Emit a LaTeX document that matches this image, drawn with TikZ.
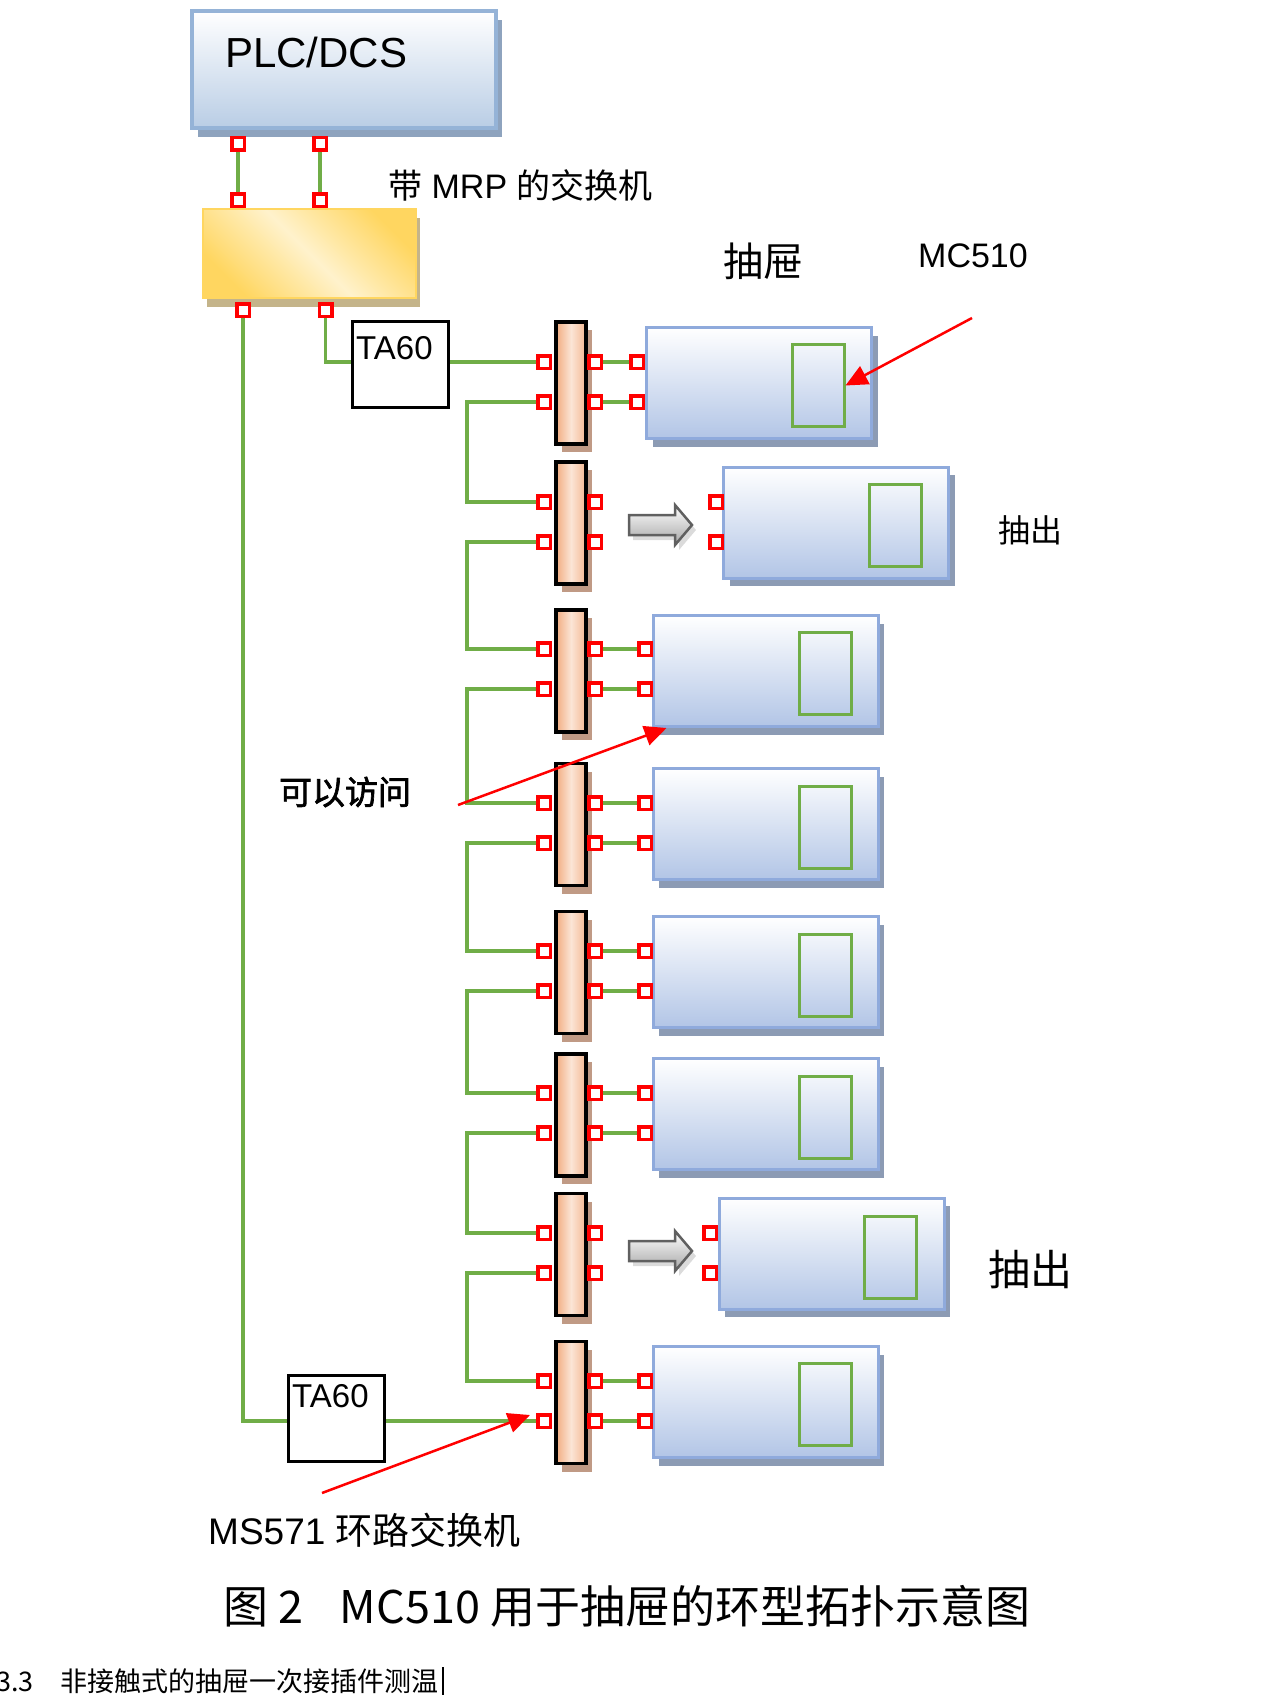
\documentclass[tikz,border=0pt]{standalone}
\usepackage{fontspec}
\setmainfont{Liberation Sans}
\newfontfamily\cjk{Noto Sans CJK SC}
\newfontfamily\cjkbf[FakeBold=2]{Noto Sans CJK SC}
\usetikzlibrary{shadows,backgrounds,arrows.meta}

\definecolor{plcblue}{RGB}{185,205,229}
\definecolor{plcline}{RGB}{149,179,215}
\definecolor{plcshade}{RGB}{142,163,190}
\definecolor{drawerblue}{RGB}{178,197,230}
\definecolor{drawerline}{RGB}{143,170,220}
\definecolor{drawershade}{RGB}{140,155,180}
\definecolor{gold}{RGB}{255,214,96}
\definecolor{lightgold}{RGB}{255,242,204}
\definecolor{goldshade}{RGB}{196,180,138}
\definecolor{barorange}{RGB}{242,172,128}
\definecolor{barlight}{RGB}{251,229,214}
\definecolor{barshade}{RGB}{192,154,133}
\definecolor{wiregreen}{RGB}{112,173,71}
\definecolor{arrowgray}{RGB}{96,96,96}

\begin{document}
\begin{tikzpicture}[x=1pt, y=-1pt,
    plcbox/.style={rectangle, draw=plcline, line width=3.5pt, top color=white, bottom color=plcblue,
      minimum width=304pt, minimum height=117pt,
      drop shadow={shadow xshift=6pt, shadow yshift=-9pt, fill=plcshade, opacity=1}},
    mrpswitch/.style={rectangle, draw=gold, line width=2pt, left color=gold, right color=gold, middle color=lightgold,
      shading angle=135, minimum width=213pt, minimum height=89pt,
      drop shadow={shadow xshift=4pt, shadow yshift=-9pt, fill=goldshade, opacity=1}},
    tabox/.style={rectangle, draw=black, line width=3pt, fill=white, minimum width=96pt, minimum height=86pt},
    railbar/.style={rectangle, draw=black, line width=3.5pt, left color=barorange, right color=barorange!85,
      middle color=barlight, minimum width=30pt, minimum height=122pt,
      drop shadow={shadow xshift=6pt, shadow yshift=-8pt, fill=barshade, opacity=1}},
    drawer/.style={rectangle, draw=drawerline, line width=3pt, top color=white, bottom color=drawerblue,
      minimum width=225pt, minimum height=111pt,
      drop shadow={shadow xshift=6pt, shadow yshift=-8pt, fill=drawershade, opacity=1}},
    window/.style={rectangle, draw=wiregreen, line width=3pt, minimum width=52pt, minimum height=82pt},
    port/.style={rectangle, draw=red, line width=3.5pt, fill=white, minimum size=12.5pt, inner sep=0pt},
    wire/.style={draw=wiregreen, line width=3.2pt},
    callout/.style={draw=red, line width=2.5pt, -{Triangle[length=22pt, width=20pt]}},
    pullarrow/.style={draw=arrowgray, line width=2.5pt, top color=white, bottom color=black!35,
      drop shadow={shadow xshift=4pt, shadow yshift=-5pt, fill=black!40, opacity=0.35}},
    every node/.style={font=\fontsize{33}{36}\selectfont, inner sep=0pt}]
      \useasboundingbox (0,0) rectangle (1260,1696);

      % controller and MRP switch
      \node[plcbox] (plc) at (344,69.5) {};
      \node[anchor=base west, font=\fontsize{42}{46}\selectfont] (plctext) at (225,68) {PLC/DCS};
      \node[mrpswitch] (sw) at (309.5,253.5) {};
      \node[anchor=west, font=\fontsize{34}{38}\selectfont] (mrplabel) at (388,185) {{\cjk 带} MRP {\cjk 的交换机}};

      \node[port] (plcA) at (238,144) {};
      \node[port] (plcB) at (320,144) {};
      \node[port] (swA) at (238,200.5) {};
      \node[port] (swB) at (320,200.5) {};
      \node[port] (swC) at (243,310) {};
      \node[port] (swD) at (325.5,310) {};

      % drawers
      \node[drawer] (d1) at (759,383) {};
      \node[drawer] (d2) at (836,522.5) {};
      \node[drawer] (d3) at (765.5,671) {};
      \node[drawer] (d4) at (765.5,824) {};
      \node[drawer] (d5) at (765.5,972) {};
      \node[drawer] (d6) at (765.5,1114) {};
      \node[drawer] (d7) at (831.5,1253.5) {};
      \node[drawer] (d8) at (765.5,1402) {};

      \node[window] (w1) at (818,385.5) {};
      \node[window] (w2) at (895.5,525.5) {};
      \node[window] (w3) at (825.5,673.5) {};
      \node[window] (w4) at (825.5,827) {};
      \node[window] (w5) at (825.5,975) {};
      \node[window] (w6) at (825.5,1117) {};
      \node[window] (w7) at (890.5,1257.5) {};
      \node[window] (w8) at (825.5,1404.5) {};

      % plug-in connector bars
      \node[railbar] (bar1) at (571,383) {};
      \node[railbar] (bar2) at (571,523) {};
      \node[railbar] (bar3) at (571,671) {};
      \node[railbar] (bar4) at (571,824.5) {};
      \node[railbar] (bar5) at (571,972.5) {};
      \node[railbar] (bar6) at (571,1115) {};
      \node[railbar] (bar7) at (571,1254.5) {};
      \node[railbar] (bar8) at (571,1402.5) {};

      % ring switches
      \node[tabox] (ta1) at (400.5,364) {};
      \node[anchor=base west] (ta1text) at (356,359) {TA60};
      \node[tabox] (ta2) at (336,1418) {};
      \node[anchor=base west] (ta2text) at (292,1407) {TA60};

      % ports, row by row
      \node[port] (l1a) at (544,362) {};
      \node[port] (l1b) at (544,402) {};
      \node[port] (r1a) at (595,362) {};
      \node[port] (r1b) at (595,402) {};
      \node[port] (p1a) at (637,362) {};
      \node[port] (p1b) at (637,402) {};

      \node[port] (l2a) at (544,502) {};
      \node[port] (l2b) at (544,542) {};
      \node[port] (r2a) at (595,502) {};
      \node[port] (r2b) at (595,542) {};
      \node[port] (p2a) at (716,502) {};
      \node[port] (p2b) at (716,542) {};

      \node[port] (l3a) at (544,649) {};
      \node[port] (l3b) at (544,689) {};
      \node[port] (r3a) at (595,649) {};
      \node[port] (r3b) at (595,689) {};
      \node[port] (p3a) at (645,649) {};
      \node[port] (p3b) at (645,689) {};

      \node[port] (l4a) at (544,803) {};
      \node[port] (l4b) at (544,843) {};
      \node[port] (r4a) at (595,803) {};
      \node[port] (r4b) at (595,843) {};
      \node[port] (p4a) at (645,803) {};
      \node[port] (p4b) at (645,843) {};

      \node[port] (l5a) at (544,951) {};
      \node[port] (l5b) at (544,991) {};
      \node[port] (r5a) at (595,951) {};
      \node[port] (r5b) at (595,991) {};
      \node[port] (p5a) at (645,951) {};
      \node[port] (p5b) at (645,991) {};

      \node[port] (l6a) at (544,1093) {};
      \node[port] (l6b) at (544,1133) {};
      \node[port] (r6a) at (595,1093) {};
      \node[port] (r6b) at (595,1133) {};
      \node[port] (p6a) at (645,1093) {};
      \node[port] (p6b) at (645,1133) {};

      \node[port] (l7a) at (544,1233) {};
      \node[port] (l7b) at (544,1273) {};
      \node[port] (r7a) at (595,1233) {};
      \node[port] (r7b) at (595,1273) {};
      \node[port] (p7a) at (710,1233) {};
      \node[port] (p7b) at (710,1273) {};

      \node[port] (l8a) at (544,1381) {};
      \node[port] (l8b) at (544,1421) {};
      \node[port] (r8a) at (595,1381) {};
      \node[port] (r8b) at (595,1421) {};
      \node[port] (p8a) at (645,1381) {};
      \node[port] (p8b) at (645,1421) {};

      % cabling, under the ports
      \coordinate (bus) at (467,0);
      \begin{scope}[on background layer]
        \draw[wire] (plcA) -- (swA);
        \draw[wire] (plcB) -- (swB);
        \draw[wire] (swD) |- (l1a);
        \draw[wire] (swC) |- (l8b);
        \draw[wire] (l1b) -| (bus |- l2a) -- (l2a);
        \draw[wire] (l2b) -| (bus |- l3a) -- (l3a);
        \draw[wire] (l3b) -| (bus |- l4a) -- (l4a);
        \draw[wire] (l4b) -| (bus |- l5a) -- (l5a);
        \draw[wire] (l5b) -| (bus |- l6a) -- (l6a);
        \draw[wire] (l6b) -| (bus |- l7a) -- (l7a);
        \draw[wire] (l7b) -| (bus |- l8a) -- (l8a);
        \draw[wire] (r1a) -- (p1a);
        \draw[wire] (r1b) -- (p1b);
        \draw[wire] (r3a) -- (p3a);
        \draw[wire] (r3b) -- (p3b);
        \draw[wire] (r4a) -- (p4a);
        \draw[wire] (r4b) -- (p4b);
        \draw[wire] (r5a) -- (p5a);
        \draw[wire] (r5b) -- (p5b);
        \draw[wire] (r6a) -- (p6a);
        \draw[wire] (r6b) -- (p6b);
        \draw[wire] (r8a) -- (p8a);
        \draw[wire] (r8b) -- (p8b);
      \end{scope}

      % drawers pulled out
      \coordinate (g2) at (629,525);
      \coordinate (g7) at (629,1251);
      \draw[pullarrow] (g2) ++(0,-10) -- ++(46,0) -- ++(0,-10) -- ++(17,20) -- ++(-17,20) -- ++(0,-10) -- ++(-46,0) -- cycle;
      \draw[pullarrow] (g7) ++(0,-10) -- ++(46,0) -- ++(0,-10) -- ++(17,20) -- ++(-17,20) -- ++(0,-10) -- ++(-46,0) -- cycle;

      % labels and callouts
      \node[font=\fontsize{40}{44}\selectfont\cjk] (drawerlabel) at (763,261) {抽屉};
      \node[anchor=base west, font=\fontsize{34}{38}\selectfont] (mclabel) at (918,267) {MC510};
      \node[font=\fontsize{32}{36}\selectfont\cjk] (out2) at (1030,530) {抽出};
      \node[font=\fontsize{42}{46}\selectfont\cjk] (out7) at (1030,1270) {抽出};
      \node[font=\fontsize{33}{36}\selectfont\cjkbf] (access) at (345,792) {可以访问};
      \node[anchor=west, font=\fontsize{37}{40}\selectfont] (mslabel) at (208,1530) {MS571 {\cjk 环路交换机}};

      \coordinate (mcTail) at (972,318);
      \coordinate (accTail) at (458,805);
      \coordinate (msTail) at (322,1493);
      \draw[callout] (mcTail) -- (w1.east);
      \draw[callout] (accTail) -- ([xshift=15pt]d3.south west);
      \draw[callout] (msTail) -- ([xshift=-6pt,yshift=6pt]l8b.west);

      % caption and the next heading
      \node[font=\fontsize{45}{50}\selectfont\cjk] (caption) at (627,1606) {图~2\hspace{36pt}MC510~用于抽屉的环型拓扑示意图};
      \node[anchor=west, font=\fontsize{27}{30}\selectfont\cjk] (nexthead) at (-4,1681) {3.3\quad 非接触式的抽屉一次接插件测温};
      \draw[line width=1.5pt] (nexthead.east) ++(4,-14) -- ++(0,28);
    \end{tikzpicture}
\end{document}
